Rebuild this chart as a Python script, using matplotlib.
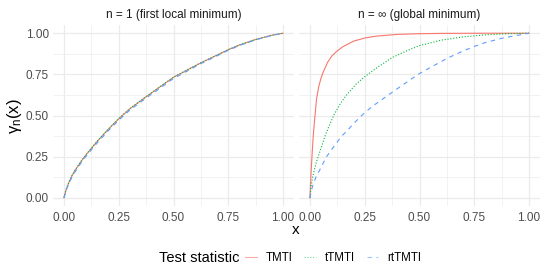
import matplotlib
matplotlib.use("Agg")
import matplotlib.pyplot as plt
from matplotlib.lines import Line2D
from matplotlib.ticker import MultipleLocator

plt.rcParams['font.family'] = ['Liberation Sans', 'DejaVu Sans']
plt.rcParams['mathtext.fontset'] = 'custom'
plt.rcParams['mathtext.rm'] = 'Liberation Sans'
plt.rcParams['mathtext.it'] = 'Liberation Sans:italic'

# ---- data ----
panel_titles = ['n = 1 (first local minimum)', 'n = \u221e (global minimum)']
series_names = ['TMTI', 'tTMTI', 'rtTMTI']

# n = 1 : all three curves almost coincide
x_n1 = [0, 0.01, 0.02, 0.035, 0.05, 0.075, 0.1, 0.125, 0.15, 0.2, 0.25, 0.3,
        0.375, 0.45, 0.5, 0.575, 0.625, 0.7, 0.75, 0.8, 0.875, 0.95, 1.0]
tmti_n1 = [0, 0.05, 0.085, 0.13, 0.165, 0.215, 0.26, 0.30, 0.34, 0.413, 0.48, 0.54,
           0.614, 0.685, 0.732, 0.785, 0.82, 0.868, 0.9, 0.928, 0.962, 0.988, 1.0]
ttmti_n1 = [0, 0.05, 0.086, 0.131, 0.166, 0.216, 0.261, 0.301, 0.341, 0.414, 0.481, 0.541,
            0.615, 0.686, 0.733, 0.786, 0.821, 0.868, 0.9, 0.928, 0.962, 0.988, 1.0]
rttmti_n1 = [0, 0.045, 0.078, 0.122, 0.156, 0.206, 0.251, 0.291, 0.331, 0.404, 0.471, 0.532,
             0.606, 0.677, 0.725, 0.779, 0.815, 0.863, 0.896, 0.925, 0.96, 0.987, 1.0]

# n = inf
x_tmti_inf = [0, 0.002, 0.005, 0.01, 0.015, 0.02, 0.03, 0.04, 0.05, 0.06, 0.08, 0.1,
              0.125, 0.15, 0.2, 0.25, 0.3, 0.4, 0.5, 0.6, 0.8, 1.0]
tmti_inf = [0, 0.07, 0.15, 0.27, 0.375, 0.455, 0.6, 0.675, 0.725, 0.762, 0.822, 0.862,
            0.893, 0.918, 0.952, 0.971, 0.982, 0.993, 0.997, 0.999, 1.0, 1.0]

x_ttmti_inf = [0, 0.003, 0.006, 0.012, 0.02, 0.03, 0.04, 0.055, 0.07, 0.09, 0.11, 0.14,
               0.17, 0.21, 0.25, 0.3, 0.375, 0.45, 0.5, 0.6, 0.7, 0.8, 0.9, 1.0]
ttmti_inf = [0, 0.04, 0.075, 0.125, 0.17, 0.22, 0.26, 0.32, 0.38, 0.445, 0.505, 0.575,
             0.63, 0.69, 0.736, 0.785, 0.852, 0.898, 0.925, 0.958, 0.978, 0.99, 0.997, 1.0]

x_rttmti_inf = [0, 0.005, 0.012, 0.027, 0.045, 0.06, 0.076, 0.1, 0.125, 0.145, 0.175, 0.2,
                0.236, 0.275, 0.3, 0.358, 0.4, 0.45, 0.5, 0.55, 0.627, 0.7, 0.753, 0.8,
                0.878, 0.95, 1.0]
rttmti_inf = [0, 0.035, 0.07, 0.125, 0.17, 0.21, 0.25, 0.295, 0.34, 0.375, 0.415, 0.452,
              0.5, 0.545, 0.57, 0.625, 0.664, 0.71, 0.755, 0.792, 0.848, 0.893, 0.921, 0.943,
              0.97, 0.988, 1.0]

colors = ['#F8766D', '#00BA38', '#619CFF']
styles = ['-', (0, (1, 1.6)), (0, (4, 4))]

panels = [
    [(x_n1, tmti_n1), (x_n1, ttmti_n1), (x_n1, rttmti_n1)],
    [(x_tmti_inf, tmti_inf), (x_ttmti_inf, ttmti_inf), (x_rttmti_inf, rttmti_inf)],
]

W, H = 545, 273
fig = plt.figure(figsize=(W / 100, H / 100), dpi=100)
fig.patch.set_facecolor('white')

ax_left = [53, 299]
ax_w = 241
ax_top, ax_bot = 25, 206

text_col = '#4D4D4D'
grid_col = '#EBEBEB'

for i, curves in enumerate(panels):
    ax = fig.add_axes([ax_left[i] / W, 1 - ax_bot / H, ax_w / W, (ax_bot - ax_top) / H])
    ax.set_xlim(-0.05, 1.05)
    ax.set_ylim(-0.05, 1.05)
    ax.xaxis.set_major_locator(MultipleLocator(0.25))
    ax.xaxis.set_minor_locator(MultipleLocator(0.125))
    ax.yaxis.set_major_locator(MultipleLocator(0.25))
    ax.yaxis.set_minor_locator(MultipleLocator(0.125))
    ax.grid(True, which='major', color=grid_col, linewidth=0.9)
    ax.grid(True, which='minor', color=grid_col, linewidth=0.45)
    ax.set_axisbelow(True)
    for sp in ax.spines.values():
        sp.set_visible(False)
    ax.tick_params(which='both', length=0, labelsize=8.5, labelcolor=text_col)
    ax.tick_params(axis='x', pad=4)
    ax.tick_params(axis='y', pad=3)
    ax.xaxis.set_major_formatter(matplotlib.ticker.FormatStrFormatter('%.2f'))
    ax.yaxis.set_major_formatter(matplotlib.ticker.FormatStrFormatter('%.2f'))
    if i == 1:
        ax.tick_params(axis='y', labelleft=False)

    for (xs, ys), c, ls in zip(curves, colors, styles):
        ax.plot(xs, ys, color=c, linestyle=ls, linewidth=0.8)

    ax.set_title(panel_titles[i], fontsize=8.5, color='#1A1A1A', pad=5)

# axis titles
fig.text(296 / W, 1 - 230 / H, 'x', ha='center', va='center', fontsize=11)
fig.text(14 / W, 1 - 116 / H, r'$\mathrm{\gamma_n(x)}$', rotation=90,
         ha='center', va='center', fontsize=12)

# legend at the bottom, title on the left
fig.text(159 / W, 1 - 258 / H, 'Test statistic', ha='left', va='center', fontsize=10.5)
handles = [Line2D([], [], color=c, linestyle=ls, linewidth=0.8, alpha=0.6)
           for c, ls in zip(colors, styles)]
fig.legend(handles, series_names, loc='center left', bbox_to_anchor=(245 / W, 1 - 258 / H),
           ncol=3, frameon=False, fontsize=8.3, handlelength=1.0, handletextpad=0.8,
           columnspacing=1.0, borderpad=0, borderaxespad=0)

fig.savefig('out.png', dpi=100)
